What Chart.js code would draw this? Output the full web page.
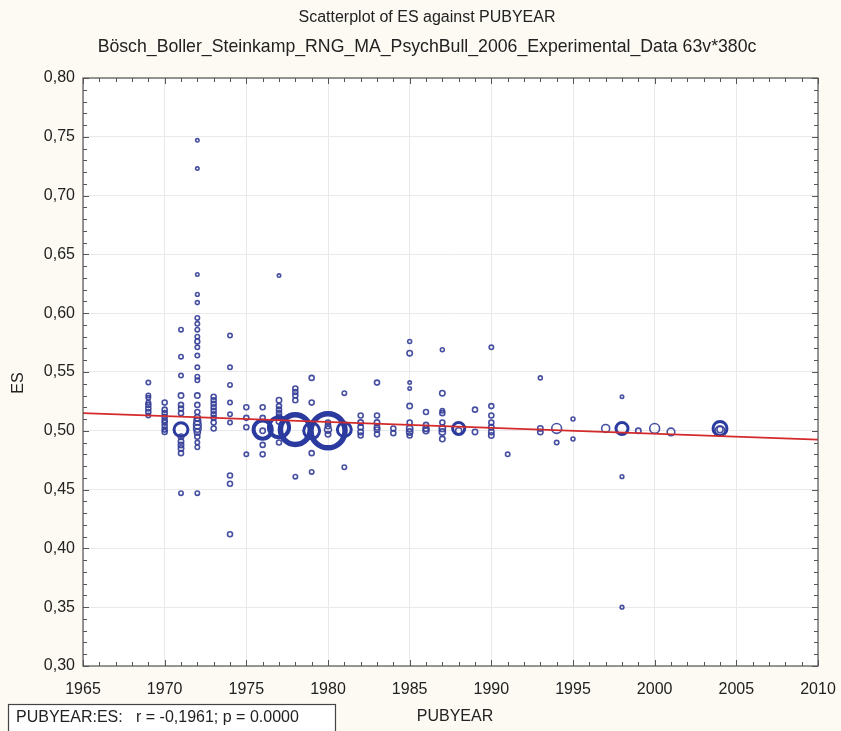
<!DOCTYPE html>
<html>
<head>
<meta charset="utf-8">
<script src="https://cdn.jsdelivr.net/npm/chart.js@4/dist/chart.umd.min.js"></script>
<style>
  html, body { margin: 0; padding: 0; background: #fcfaf2; }
  #wrap { width: 841px; height: 731px; }
</style>
</head>
<body>
<div id="wrap"><canvas id="scatter" width="841" height="731"></canvas></div>
<script>
// Werte (PUBYEAR, ES, relatives Gewicht der Studie)
const pubYear = [
  1969, 1969, 1969, 1969, 1969, 1969, 1969, 1969,
  1970, 1970, 1970, 1970, 1970, 1970, 1970, 1970, 1970,
  1971, 1971, 1971, 1971, 1971, 1971, 1971, 1971, 1971, 1971, 1971, 1971, 1971, 1971,
  1972, 1972, 1972, 1972, 1972, 1972, 1972, 1972, 1972, 1972, 1972, 1972, 1972, 1972,
  1972, 1972, 1972, 1972, 1972, 1972, 1972, 1972, 1972, 1972, 1972, 1972, 1972,
  1973, 1973, 1973, 1973, 1973, 1973, 1973, 1973, 1973,
  1974, 1974, 1974, 1974, 1974, 1974, 1974, 1974, 1974,
  1975, 1975, 1975, 1975,
  1976, 1976, 1976, 1976, 1976, 1976,
  1977, 1977, 1977, 1977, 1977, 1977, 1977, 1977, 1977,
  1978, 1978, 1978, 1978, 1978, 1978,
  1979, 1979, 1979, 1979, 1979,
  1980, 1980, 1980, 1980, 1980,
  1981, 1981, 1981,
  1982, 1982, 1982, 1982, 1982,
  1983, 1983, 1983, 1983, 1983, 1983,
  1984, 1984,
  1985, 1985, 1985, 1985, 1985, 1985, 1985, 1985, 1985,
  1986, 1986, 1986, 1986,
  1987, 1987, 1987, 1987, 1987, 1987, 1987, 1987,
  1988, 1988,
  1989, 1989,
  1990, 1990, 1990, 1990, 1990, 1990, 1990,
  1991,
  1993, 1993, 1993,
  1994, 1994,
  1995, 1995,
  1997,
  1998, 1998, 1998, 1998,
  1999,
  2000,
  2001,
  2004, 2004, 2004
];
const esValue = [
  0.541, 0.530, 0.528, 0.524, 0.522, 0.519, 0.516, 0.513,
  0.524, 0.518, 0.515, 0.512, 0.509, 0.507, 0.504, 0.501, 0.499,
  0.586, 0.563, 0.547, 0.530, 0.522, 0.519, 0.515, 0.501, 0.495, 0.491, 0.488, 0.485, 0.481, 0.447,
  0.747, 0.723, 0.633, 0.616, 0.609, 0.596, 0.591, 0.586, 0.580, 0.576, 0.571, 0.564, 0.554, 0.546,
  0.543, 0.530, 0.522, 0.516, 0.511, 0.508, 0.505, 0.502, 0.499, 0.495, 0.490, 0.486, 0.447,
  0.529, 0.526, 0.523, 0.520, 0.517, 0.514, 0.511, 0.507, 0.502,
  0.581, 0.554, 0.539, 0.524, 0.514, 0.507, 0.462, 0.455, 0.412,
  0.520, 0.511, 0.503, 0.480,
  0.520, 0.511, 0.501, 0.500, 0.488, 0.480,
  0.632, 0.526, 0.521, 0.518, 0.515, 0.512, 0.508, 0.503, 0.490,
  0.536, 0.533, 0.530, 0.526, 0.501, 0.461,
  0.545, 0.524, 0.500, 0.481, 0.465,
  0.507, 0.504, 0.500, 0.501, 0.497,
  0.532, 0.501, 0.469,
  0.513, 0.507, 0.503, 0.499, 0.496,
  0.541, 0.513, 0.507, 0.503, 0.501, 0.497,
  0.502, 0.498,
  0.576, 0.566, 0.541, 0.536, 0.521, 0.507, 0.502, 0.499, 0.496,
  0.516, 0.505, 0.502, 0.500,
  0.569, 0.532, 0.517, 0.515, 0.507, 0.502, 0.499, 0.493,
  0.502, 0.500,
  0.518, 0.499,
  0.571, 0.521, 0.513, 0.507, 0.503, 0.499, 0.496,
  0.480,
  0.545, 0.502, 0.499,
  0.502, 0.490,
  0.510, 0.493,
  0.502,
  0.529, 0.502, 0.461, 0.350,
  0.500,
  0.502,
  0.499,
  0.502, 0.500, 0.501
];
const studyWeight = [
  1, 1, 1, 1, 1.3, 1.3, 1.3, 1,
  1.3, 1.3, 1.3, 1.3, 1.3, 1.3, 1.3, 1.3, 1.3,
  1, 1, 1, 1.5, 1.3, 1.3, 1.3, 10, 1.5, 1.5, 1.5, 1.5, 1.3, 1,
  0.6, 0.6, 0.6, 0.7, 0.8, 1, 1, 1, 1, 1.2, 1, 1, 1, 1,
  1, 1.5, 1.3, 1.3, 2, 2.5, 3, 3, 2, 1.3, 1, 1, 1,
  1.3, 1.3, 1.3, 1.3, 1.3, 1.3, 1.3, 1.3, 1.3,
  1, 1, 1, 1, 1, 1, 1.3, 1.3, 1.3,
  1.3, 1.3, 1.3, 1,
  1.3, 1.3, 17, 1.5, 1.3, 1.3,
  0.6, 1.5, 1.3, 1.3, 1.3, 1.5, 1.5, 21, 1.3,
  1.3, 1.3, 1.3, 1.3, 46, 1,
  1.3, 1.3, 13, 1.3, 1,
  1.3, 1.5, 60, 2.5, 1.5,
  1, 10, 1,
  1.3, 1.5, 1.5, 1.5, 1.3,
  1.3, 1.3, 1.5, 1.5, 1.5, 1.3,
  1.3, 1.3,
  0.8, 1.5, 0.6, 0.6, 1.5, 1.3, 2, 2, 1.3,
  1.3, 1.3, 1.8, 1.8,
  0.8, 1.5, 1, 1.3, 1.3, 2, 2, 1.5,
  7.5, 2,
  1.3, 1.5,
  1, 1.3, 1.3, 1.3, 1.5, 1.5, 1.5,
  1,
  0.8, 1.5, 1.5,
  5, 1,
  0.8, 0.8,
  3.3,
  0.6, 7.5, 0.7, 0.7,
  1.5,
  5,
  3,
  10, 5, 2
];

const fitYears = [1965, 2010];
const fitES = [0.515, 0.4925];

const xTicks = [1965, 1970, 1975, 1980, 1985, 1990, 1995, 2000, 2005, 2010];
const yTicks = [0.30, 0.35, 0.40, 0.45, 0.50, 0.55, 0.60, 0.65, 0.70, 0.75, 0.80];

const titleText = "Scatterplot of ES against PUBYEAR";
const subtitleText = "Bösch_Boller_Steinkamp_RNG_MA_PsychBull_2006_Experimental_Data 63v*380c";
const statText = "PUBYEAR:ES:   r = -0,1961; p = 0.0000";

const FONT = "'Liberation Sans', Arial, sans-serif";
const textColor = "#222";

const bubbles = pubYear.map((yr, i) => ({
  x: yr,
  y: esValue[i],
  r: 2.2 * Math.sqrt(studyWeight[i]),
}));
const fitLine = fitYears.map((yr, i) => ({ x: yr, y: fitES[i] }));

// Hintergrund + weisse Plotflaeche
const bgPlugin = {
  id: "bg",
  beforeDraw(chart) {
    const { ctx, chartArea: a } = chart;
    ctx.save();
    ctx.fillStyle = "#fcfaf2";
    ctx.fillRect(0, 0, chart.width, chart.height);
    ctx.fillStyle = "#ffffff";
    ctx.fillRect(a.left, a.top, a.right - a.left, a.bottom - a.top);
    ctx.restore();
  },
};

// Rahmen, kleine Ticks, Texte
const decoPlugin = {
  id: "deco",
  afterDraw(chart) {
    const { ctx, chartArea: a, scales } = chart;
    ctx.save();
    ctx.strokeStyle = "#555";
    ctx.lineWidth = 1.2;
    ctx.strokeRect(a.left, a.top, a.right - a.left, a.bottom - a.top);

    // minor ticks
    ctx.lineWidth = 1;
    ctx.beginPath();
    for (let yr = 1965; yr <= 2010; yr++) {
      const px = Math.round(scales.x.getPixelForValue(yr)) + 0.5;
      const len = yr % 5 === 0 ? 6 : 4;
      ctx.moveTo(px, a.bottom);
      ctx.lineTo(px, a.bottom - len);
      ctx.moveTo(px, a.top);
      ctx.lineTo(px, a.top + len);
    }
    for (let k = 30; k <= 80; k++) {
      const py = Math.round(scales.y.getPixelForValue(k / 100)) + 0.5;
      const len = k % 5 === 0 ? 6 : 4;
      ctx.moveTo(a.left, py);
      ctx.lineTo(a.left + len, py);
      ctx.moveTo(a.right, py);
      ctx.lineTo(a.right - len, py);
    }
    ctx.stroke();

    ctx.fillStyle = textColor;
    ctx.textAlign = "center";
    ctx.textBaseline = "middle";
    ctx.font = "16px " + FONT;
    ctx.fillText(titleText, 427, 18);
    ctx.fillText("PUBYEAR", 455, 717);
    ctx.font = "17.7px " + FONT;
    ctx.fillText(subtitleText, 427, 47);
    ctx.font = "16px " + FONT;

    ctx.save();
    ctx.translate(19, 383);
    ctx.rotate(-Math.PI / 2);
    ctx.fillText("ES", 0, 0);
    ctx.restore();

    // Statistik-Kasten unten links
    ctx.fillStyle = "#ffffff";
    ctx.fillRect(8, 704, 327, 30);
    ctx.strokeStyle = "#444";
    ctx.lineWidth = 1.2;
    ctx.strokeRect(8.5, 704.5, 327, 30);
    ctx.fillStyle = textColor;
    ctx.textAlign = "left";
    ctx.fillText(statText, 16, 718);
    ctx.restore();
  },
};

const ctx = document.getElementById("scatter").getContext("2d");
const chart = new Chart(ctx, {
  type: "bubble",
  data: {
    datasets: [
      {
        type: "line",
        label: "fit",
        data: fitLine,
        borderColor: "#d42a2a",
        borderWidth: 1.6,
        pointRadius: 0,
        fill: false,
        order: 0,
      },
      {
        label: "ES",
        data: bubbles,
        backgroundColor: "rgba(0,0,0,0)",
        borderColor: (c) => {
          const r = c.raw ? c.raw.r : 2;
          return r >= 5 ? "#2a3a9e" : "rgba(50,60,150,0.9)";
        },
        borderWidth: (c) => {
          const r = c.raw ? c.raw.r : 2;
          if (r >= 12) return 5.5;
          if (r >= 8) return 4;
          if (r >= 5) return 3;
          return 1.6;
        },
        order: 1,
      },
    ],
  },
  options: {
    responsive: false,
    animation: false,
    devicePixelRatio: 1,
    layout: { padding: { top: 78, right: 23, left: 0, bottom: 0 } },
    plugins: {
      legend: { display: false },
      title: { display: false },
      tooltip: { enabled: false },
    },
    scales: {
      x: {
        type: "linear",
        min: 1965,
        max: 2010,
        afterFit: (s) => {
          s.height = 65;
          s.paddingLeft = 0;
          s.paddingRight = 0;
        },
        afterBuildTicks: (s) => { s.ticks = xTicks.map((v) => ({ value: v })); },
        ticks: {
          padding: 14,
          color: textColor,
          font: { size: 16, family: FONT },
          maxRotation: 0,
          callback: (v) => String(v),
        },
        grid: { color: "#e9e9e9", drawTicks: false },
        border: { display: false },
      },
      y: {
        type: "linear",
        min: 0.3,
        max: 0.8,
        afterFit: (s) => {
          s.width = 83;
          s.paddingTop = 0;
          s.paddingBottom = 0;
        },
        afterBuildTicks: (s) => { s.ticks = yTicks.map((v) => ({ value: v })); },
        ticks: {
          padding: 8,
          color: textColor,
          font: { size: 16, family: FONT },
          callback: (v) => v.toFixed(2).replace(".", ","),
        },
        grid: { color: "#e9e9e9", drawTicks: false },
        border: { display: false },
      },
    },
  },
  plugins: [bgPlugin, decoPlugin],
});
</script>
</body>
</html>
